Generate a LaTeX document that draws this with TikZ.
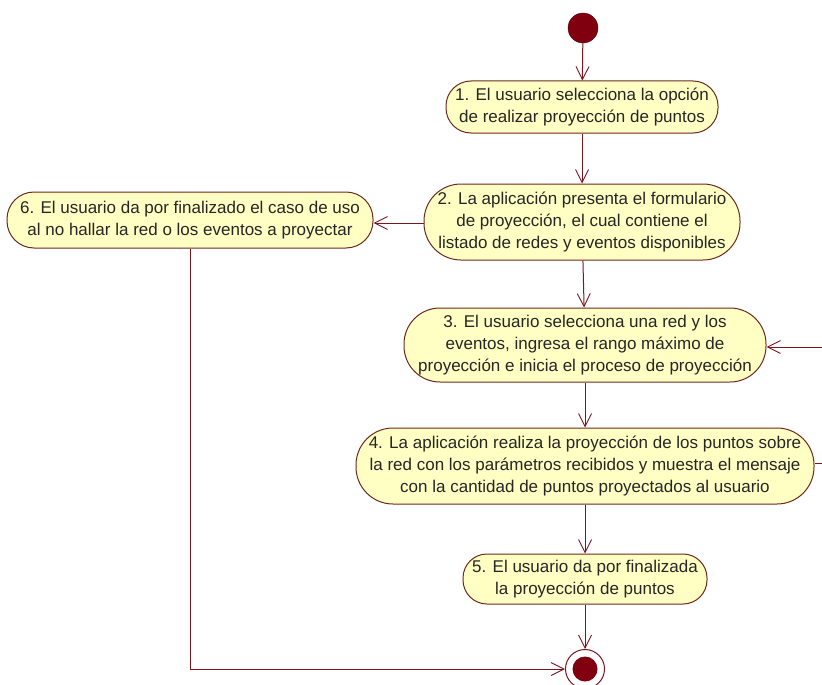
\documentclass[tikz,border=0pt]{standalone}
\usepackage{fontspec}
\setmainfont{Liberation Sans}
\usetikzlibrary{arrows.meta}
\definecolor{actfill}{RGB}{255,255,196}
\definecolor{actline}{RGB}{110,40,30}
\definecolor{flow}{RGB}{125,20,30}
\definecolor{dot}{RGB}{128,0,16}
\tikzset{
  action/.style={draw=actline, line width=1pt, fill=actfill, inner sep=0pt,
    align=center, font=\fontsize{17}{21.7}\selectfont, text=black!85},
  flowline/.style={draw=flow, line width=1pt,
    -{Straight Barb[length=13pt,width=13pt,line width=0.9pt]}},
  startdot/.style={circle, fill=dot, draw=dot!70!black, minimum size=30pt, inner sep=0pt},
  endring/.style={circle, draw=flow, line width=1pt, fill=white, minimum size=39pt, inner sep=0pt},
  enddot/.style={circle, fill=dot, minimum size=25pt, inner sep=0pt}
}
% action node: rounded rectangle with semicircular ends
\newcommand{\actnode}[6]{%
  \node[action, minimum width=#4pt, minimum height=#5pt,
        rounded corners=#6pt] (#1) at (#2,#3)}
\begin{document}
\begin{tikzpicture}[x=1pt, y=-1pt]
\useasboundingbox (0,0) rectangle (822,685);

\node[startdot] (start) at (583,28) {};

\actnode{a1}{582}{107}{272}{52}{25} {1. El usuario selecciona la opción\\de realizar proyección de puntos};
\actnode{a2}{582}{222}{316}{76}{37} {2. La aplicación presenta el formulario\\de proyección, el cual contiene el\\listado de redes y eventos disponibles};
\actnode{a6}{190}{220}{366}{56}{27} {6. El usuario da por finalizado el caso de uso\\al no hallar la red o los eventos a proyectar};
\actnode{a3}{585}{345}{362}{74}{36} {3. El usuario selecciona una red y los\\eventos, ingresa el rango máximo de\\proyección e inicia el proceso de proyección};
\actnode{a4}{585}{466}{458}{76}{37} {4. La aplicación realiza la proyección de los puntos sobre\\la red con los parámetros recibidos y muestra el mensaje\\con la cantidad de puntos proyectados al usuario};
\actnode{a5}{585}{579}{244}{50}{24} {5. El usuario da por finalizada\\la proyección de puntos};

\node[endring] (finish) at (585,669) {};
\node[enddot] (finishdot) at (finish) {};

% loop back from step 4 to step 3, continuing past the right edge
\coordinate (loopout) at (822,463);
\coordinate (loopin) at (822,347);

\draw[flowline] (start) -- (a1);
\draw[flowline] (a1) -- (a2);
\draw[flowline] (a2.west |- 0,223) -- (a6.east |- 0,223);
\draw[flowline] (a2) -- (a3);
\draw[flowline] (a3) -- (a4);
\draw[flowline] (a4) -- (a5);
\draw[flowline] (a5) -- (finish);
\draw[flowline] (a6.south) -- (a6.south |- finish) -- (finish.west);
\draw[draw=flow, line width=1pt] (a4.east |- loopout) -- (loopout);
\draw[flowline] (loopin) -- (a3.east |- loopin);
\end{tikzpicture}
\end{document}
